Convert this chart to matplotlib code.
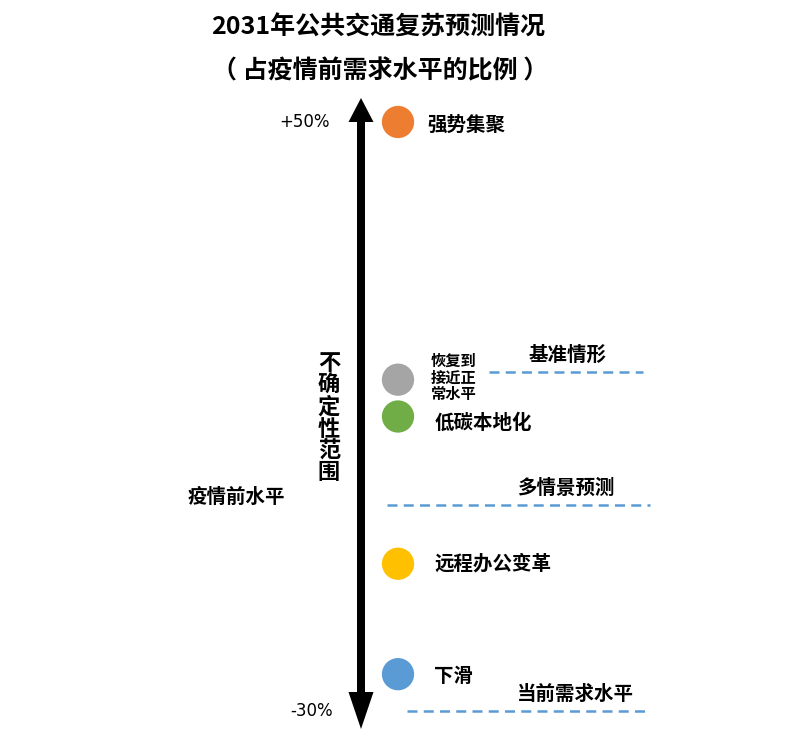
import matplotlib.pyplot as plt

plt.rcParams['font.family'] = ['Noto Sans CJK SC', 'DejaVu Sans']

# scenario dots: share of pre-pandemic demand (%) in 2031
scenarios = ['强势集聚', '恢复到\n接近正\n常水平', '低碳本地化', '远程办公变革', '下滑']
values = [50, 15, 10, -10, -25]
colors = ['#ED7D31', '#A5A5A5', '#70AD47', '#FFC000', '#5B9BD5']

# dashed reference lines
ref_names = ['基准情形', '多情景预测', '当前需求水平']
ref_values = [16, -2, -30]

range_top = 50
range_bottom = -30
pre_level = 0

W, H = 809, 740
fig = plt.figure(figsize=(W / 100, H / 100), dpi=100)
ax = fig.add_axes([0, 0, 1, 1])
ax.set_xlim(0, W)
ax.set_ylim(-33.94, 66.57)
ax.axis('off')

px = (66.57 + 33.94) / H  # percent per pixel

# uncertainty arrow (two overlapping single-headed arrows)
ax.arrow(361, range_bottom, 0, range_top - range_bottom, width=8, head_width=25,
         head_length=24 * px, length_includes_head=False, color='black', lw=0)
ax.arrow(361, range_top, 0, range_bottom - range_top + 19 * px, width=8, head_width=25,
         head_length=37 * px, length_includes_head=False, color='black', lw=0)

ax.text(330, range_top, '+50%', ha='right', va='center', fontsize=12,
        family=['DejaVu Sans'])
ax.text(333, range_bottom, '-30%', ha='right', va='center', fontsize=12,
        family=['DejaVu Sans'])

# vertical label
word = '不确定性范围'
for i, ch in enumerate(word):
    ax.text(329, 66.57 - (364 + i * 21.7) * px, ch, ha='center', va='center',
            fontsize=16, fontweight='bold')

ax.text(236, pre_level - 7 * px, '疫情前水平', ha='center', va='center',
        fontsize=14, fontweight='bold')

# scenario dots and labels
ax.scatter([398] * len(values), values, s=540, c=colors, zorder=3, linewidths=0)
label_x = [427, 431, 435, 434, 434]
label_dy = [3, -2, 7, 0, 2]
for name, v, lx, dy in zip(scenarios, values, label_x, label_dy):
    if '\n' in name:
        ax.text(lx, v - dy * px, name, ha='left', va='center', fontsize=11,
                fontweight='bold', linespacing=1.05)
    else:
        ax.text(lx, v - dy * px, name, ha='left', va='center', fontsize=14,
                fontweight='bold')

# reference lines
line_x = [(489, 643), (387, 650), (407, 648)]
text_x = [568, 567, 575]
for name, v, (x0, x1), tx in zip(ref_names, ref_values, line_x, text_x):
    ax.plot([x0, x1], [v, v], color='#5B9BD5', lw=1.8, dashes=(4, 2.5))
    ax.text(tx, v + 17 * px, name, ha='center', va='center', fontsize=14,
            fontweight='bold')

fig.text(378 / W, 1 - 28 / H, '2031年公共交通复苏预测情况', ha='center', va='center',
         fontsize=18, fontweight='bold')
fig.text(380 / W, 1 - 71 / H, '（ 占疫情前需求水平的比例 ）', ha='center', va='center',
         fontsize=18, fontweight='bold')

fig.savefig('out.png', dpi=100)
